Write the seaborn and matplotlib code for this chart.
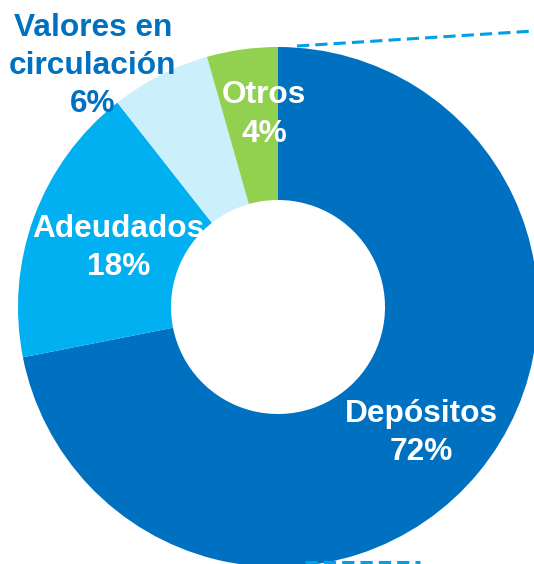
import matplotlib
matplotlib.use("Agg")
import matplotlib.pyplot as plt
import seaborn as sns
import numpy as np

# data
labels = ['Depósitos', 'Adeudados', 'Valores en\ncirculación', 'Otros']
shares = [71.9, 17.5, 6.2, 4.4]
pct_labels = ['72%', '18%', '6%', '4%']
colors = ['#0070C0', '#00B0F0', '#CCEFFC', '#92D050']
text_colors = ['white', 'white', '#0070C0', 'white']

sns.set_theme(style="white")
plt.rcParams['font.family'] = ['Liberation Sans', 'DejaVu Sans']

W, H = 534, 564
fig = plt.figure(figsize=(W / 100, H / 100), dpi=100)
ax = fig.add_axes([0, 0, 1, 1])

cx, cy = 278, H - 307
r_out, r_in = 260, 107

wedges, _ = ax.pie(shares, colors=colors, startangle=90, counterclock=False,
                   radius=r_out, center=(cx, cy), frame=True,
                   wedgeprops=dict(width=r_out - r_in, linewidth=0))
ax.set_xlim(0, W)
ax.set_ylim(0, H)
ax.set_aspect('equal')
ax.axis('off')

# label placement: distance from centre and clockwise angle from 12 o'clock
label_r = [191, 170, 304, 193]
label_ang = [131.4, None, 322.5, 355.9]
for i, (w, lab, p) in enumerate(zip(wedges, labels, pct_labels)):
    mid = (w.theta1 + w.theta2) / 2
    if label_ang[i] is not None:
        mid = 90 - label_ang[i]
    x = cx + label_r[i] * np.cos(np.radians(mid))
    y = cy + label_r[i] * np.sin(np.radians(mid))
    ax.text(x, y, f"{lab}\n{p}", ha='center', va='center',
            fontsize=22.8, fontweight='bold', color=text_colors[i],
            linespacing=1.36)

# dashed connector lines toward the (cropped) breakdown on the right
ax.plot([297, 534], [H - 46, H - 31], color='#00A0E6', lw=2.2,
        linestyle=(0, (4, 2)))
ax.plot([305, 420], [H - 562, H - 562], color='#00A0E6', lw=2.2,
        linestyle=(0, (4, 2)))

fig.savefig('out.png', dpi=100)
